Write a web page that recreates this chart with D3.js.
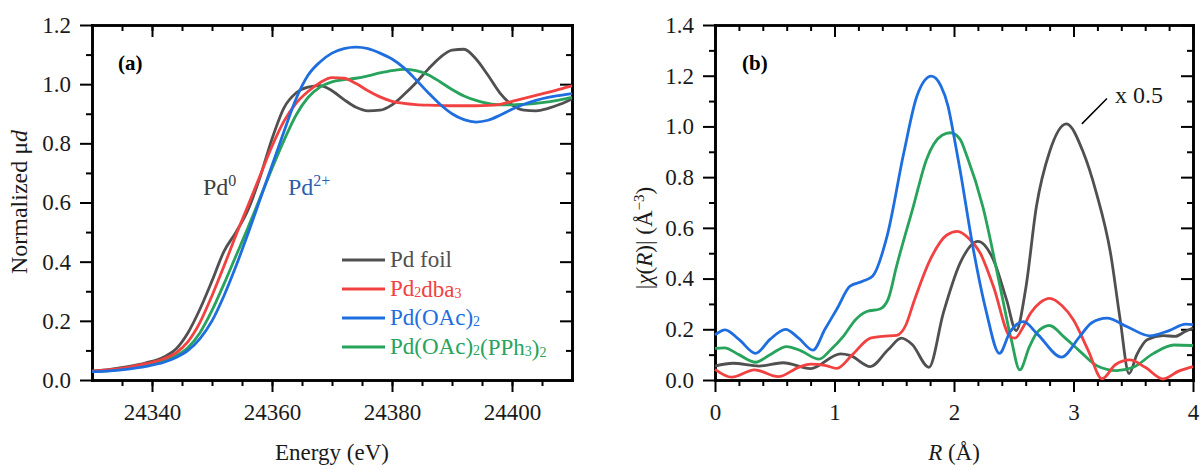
<!DOCTYPE html>
<html>
<head>
<meta charset="utf-8">
<script src="https://cdn.jsdelivr.net/npm/d3@7"></script>
<style>
  body { margin: 0; background: #fff; }
  text { font-family: "Liberation Serif", "Times New Roman", serif; }
</style>
</head>
<body>
<svg id="chart" width="1201" height="469"></svg>
<script>
// ---- panel (a): XANES, shared energy grid (eV)
var energy = [24330, 24333, 24336, 24339, 24342, 24344, 24346, 24348, 24350, 24352,
  24354, 24356, 24358, 24360, 24362, 24364, 24366, 24368, 24370, 24372,
  24374, 24376, 24378, 24380, 24382, 24384, 24386, 24388, 24390, 24392,
  24394, 24396, 24398, 24400, 24402, 24404, 24406, 24408, 24410];

var foilMu = [0.030, 0.036, 0.045, 0.058, 0.078, 0.105, 0.160, 0.240, 0.335, 0.435,
  0.500, 0.575, 0.685, 0.815, 0.920, 0.970, 0.990, 0.995, 0.978, 0.948,
  0.922, 0.910, 0.912, 0.930, 0.965, 1.005, 1.050, 1.090, 1.115, 1.118,
  1.085, 1.030, 0.970, 0.930, 0.912, 0.910, 0.918, 0.932, 0.950];

var dbaMu = [0.030, 0.035, 0.043, 0.055, 0.072, 0.092, 0.130, 0.195, 0.285, 0.385,
  0.490, 0.590, 0.690, 0.790, 0.875, 0.935, 0.975, 1.005, 1.022, 1.020,
  1.002, 0.978, 0.957, 0.942, 0.935, 0.931, 0.929, 0.928, 0.927, 0.927,
  0.927, 0.928, 0.932, 0.942, 0.952, 0.962, 0.972, 0.983, 0.995];

var oacMu = [0.028, 0.031, 0.037, 0.046, 0.060, 0.076, 0.100, 0.140, 0.200, 0.285,
  0.385, 0.495, 0.610, 0.725, 0.840, 0.950, 1.030, 1.075, 1.105, 1.120,
  1.125, 1.120, 1.105, 1.085, 1.055, 1.015, 0.972, 0.932, 0.900, 0.880,
  0.872, 0.878, 0.895, 0.915, 0.932, 0.945, 0.955, 0.962, 0.968];

var pphMu = [0.028, 0.032, 0.039, 0.050, 0.065, 0.082, 0.110, 0.160, 0.235, 0.325,
  0.420, 0.515, 0.615, 0.715, 0.810, 0.895, 0.955, 0.990, 1.008, 1.015,
  1.020, 1.028, 1.038, 1.046, 1.050, 1.046, 1.032, 1.008, 0.982, 0.960,
  0.945, 0.935, 0.930, 0.930, 0.932, 0.935, 0.940, 0.947, 0.955];

// ---- panel (b): FT-EXAFS, each curve with its own R points (Å)
var foilR   = [0, 0.15, 0.37, 0.57, 0.8, 1.05, 1.13, 1.3, 1.45, 1.56, 1.65, 1.79, 1.91, 2.05, 2.2, 2.33, 2.44, 2.52,
  2.6, 2.69, 2.8, 2.94, 3.08, 3.19, 3.31, 3.39, 3.465, 3.53, 3.62, 3.75, 3.85, 3.93, 4.0];
var foilChi = [0.055, 0.066, 0.055, 0.068, 0.045, 0.103, 0.097, 0.053, 0.12, 0.165, 0.14, 0.05, 0.263, 0.46, 0.547, 0.474, 0.316, 0.195,
  0.36, 0.685, 0.9, 1.01, 0.9, 0.74, 0.5, 0.24, 0.025, 0.1, 0.16, 0.175, 0.172, 0.19, 0.205];

var dbaR   = [0, 0.14, 0.33, 0.53, 0.7, 0.8, 0.92, 1.02, 1.15, 1.3, 1.4, 1.52, 1.6, 1.66, 1.8, 1.94, 2.03, 2.12, 2.22,
  2.33, 2.47, 2.51, 2.58, 2.64, 2.72, 2.8, 2.9, 3.0, 3.12, 3.24, 3.35, 3.47, 3.6, 3.75, 3.88, 4.0];
var dbaChi = [0.042, 0.011, 0.04, 0.013, 0.05, 0.063, 0.058, 0.046, 0.1, 0.165, 0.172, 0.176, 0.22, 0.303, 0.474, 0.572, 0.586, 0.56, 0.5,
  0.369, 0.171, 0.165, 0.21, 0.263, 0.305, 0.322, 0.295, 0.237, 0.12, 0.005, 0.06, 0.079, 0.05, 0.004, 0.035, 0.053];

var oacR   = [0, 0.085, 0.2, 0.34, 0.46, 0.59, 0.7, 0.82, 0.92, 1.02, 1.13, 1.24, 1.32, 1.44, 1.58, 1.69, 1.81, 1.89, 1.95,
  2.0, 2.05, 2.16, 2.27, 2.38, 2.47, 2.58, 2.7, 2.9, 3.05, 3.15, 3.28, 3.45, 3.64, 3.8, 3.94, 4.0];
var oacChi = [0.178, 0.198, 0.16, 0.105, 0.16, 0.2, 0.165, 0.118, 0.2, 0.28, 0.37, 0.39, 0.41, 0.567, 0.896, 1.12, 1.198, 1.16, 1.08,
  0.96, 0.83, 0.52, 0.27, 0.105, 0.19, 0.23, 0.18, 0.09, 0.17, 0.225, 0.244, 0.21, 0.174, 0.195, 0.22, 0.218];

var pphR   = [0, 0.08, 0.2, 0.34, 0.46, 0.6, 0.72, 0.87, 0.97, 1.07, 1.18, 1.27, 1.38, 1.45, 1.52, 1.66, 1.77, 1.9, 1.97,
  2.05, 2.11, 2.24, 2.385, 2.48, 2.55, 2.63, 2.7, 2.8, 2.92, 3.05, 3.2, 3.36, 3.5, 3.67, 3.84, 4.0];
var pphChi = [0.125, 0.127, 0.1, 0.07, 0.1, 0.132, 0.115, 0.082, 0.12, 0.17, 0.24, 0.27, 0.28, 0.32, 0.45, 0.685, 0.87, 0.965, 0.975,
  0.95, 0.88, 0.686, 0.37, 0.158, 0.04, 0.13, 0.19, 0.215, 0.17, 0.115, 0.055, 0.037, 0.05, 0.105, 0.138, 0.136];

var legendLabels = ["Pd foil", "Pd2dba3", "Pd(OAc)2", "Pd(OAc)2(PPh3)2"];
var colors = ["#505050", "#f24141", "#1f6ee0", "#27a35c"];

var svg = d3.select("#chart");

// scales
var xa = d3.scaleLinear().domain([24330, 24410]).range([92, 572]);
var ya = d3.scaleLinear().domain([0, 1.2]).range([380, 25]);
var xb = d3.scaleLinear().domain([0, 4]).range([715, 1193]);
var yb = d3.scaleLinear().domain([0, 1.4]).range([380, 25]);

// axes box with ticks: outward on left/bottom, inward on top/right
function frame(x, y, xMajor, xMinor, yMajor, yMinor, xFmt, yFmt) {
  var g = svg.append("g");
  var xr = x.range(), yr = y.range();

  function put(axis, tx, ty) {
    var a = g.append("g")
      .attr("transform", "translate(" + tx + "," + ty + ")")
      .call(axis.tickSizeOuter(0));
    a.attr("font-family", null).attr("font-size", null);
    a.select(".domain").attr("stroke", "#000").attr("stroke-width", 2.6).attr("stroke-linecap", "square");
    a.selectAll(".tick line").attr("stroke", "#000").attr("stroke-width", 2);
    a.selectAll(".tick text").style("font-size", "23px").attr("fill", "#1a1a1a");
    return a;
  }

  put(d3.axisBottom(x).tickValues(xMinor).tickSize(6).tickFormat(""), 0, yr[0]);
  put(d3.axisBottom(x).tickValues(xMajor).tickSize(12).tickPadding(12).tickFormat(xFmt), 0, yr[0]);
  put(d3.axisTop(x).tickValues(xMinor).tickSize(-6).tickFormat(""), 0, yr[1]);
  put(d3.axisTop(x).tickValues(xMajor).tickSize(-12).tickFormat(""), 0, yr[1]);

  put(d3.axisLeft(y).tickValues(yMinor).tickSize(6).tickFormat(""), xr[0], 0);
  put(d3.axisLeft(y).tickValues(yMajor).tickSize(12).tickPadding(9).tickFormat(yFmt), xr[0], 0);
  put(d3.axisRight(y).tickValues(yMinor).tickSize(-6).tickFormat(""), xr[1], 0);
  put(d3.axisRight(y).tickValues(yMajor).tickSize(-12).tickFormat(""), xr[1], 0);
}

frame(xa, ya,
  [24340, 24360, 24380, 24400],
  d3.range(24335, 24410, 5),
  d3.range(0, 1.21, 0.2),
  d3.range(0.1, 1.2, 0.2),
  d3.format("d"), d3.format(".1f"));

frame(xb, yb,
  [0, 1, 2, 3, 4],
  [0.2, 0.4, 0.6, 0.8, 1.2, 1.4, 1.6, 1.8, 2.2, 2.4, 2.6, 2.8, 3.2, 3.4, 3.6, 3.8],
  d3.range(0, 1.41, 0.2),
  d3.range(0.1, 1.4, 0.2),
  d3.format("d"), d3.format(".1f"));

// curves, panel (a)
var muSeries = [foilMu, dbaMu, oacMu, pphMu];
var lineA = d3.line()
  .x(function(d) { return xa(d[0]); })
  .y(function(d) { return ya(d[1]); })
  .curve(d3.curveMonotoneX);

// draw order: foil, green, red, blue like the picture
[0, 3, 1, 2].forEach(function(i) {
  svg.append("path")
    .datum(energy.map(function(e, j) { return [e, muSeries[i][j]]; }))
    .attr("d", lineA)
    .attr("fill", "none")
    .attr("stroke", colors[i])
    .attr("stroke-width", 2.8);
});

// curves, panel (b)
var rSeries = [foilR, dbaR, oacR, pphR];
var chiSeries = [foilChi, dbaChi, oacChi, pphChi];
var lineB = d3.line()
  .x(function(d) { return xb(d[0]); })
  .y(function(d) { return yb(d[1]); })
  .curve(d3.curveMonotoneX);

[0, 3, 1, 2].forEach(function(i) {
  svg.append("path")
    .datum(rSeries[i].map(function(r, j) { return [r, chiSeries[i][j]]; }))
    .attr("d", lineB)
    .attr("fill", "none")
    .attr("stroke", colors[i])
    .attr("stroke-width", 2.8);
});

// legend in panel (a)
var leg = svg.append("g");
legendLabels.forEach(function(lab, i) {
  var cy = 260 + i * 29;
  leg.append("line")
    .attr("x1", 342).attr("x2", 385)
    .attr("y1", cy).attr("y2", cy)
    .attr("stroke", colors[i]).attr("stroke-width", 3);
  var t = leg.append("text")
    .attr("x", 390).attr("y", cy + 7)
    .attr("fill", colors[i])
    .style("font-size", "23px");
  // digits in these formulas are subscripts
  lab.split(/(\d)/).forEach(function(part) {
    if (part === "") return;
    if (/\d/.test(part)) {
      t.append("tspan").attr("dy", 1).style("font-size", "14px").text(part);
      t.append("tspan").attr("dy", -1).text("");
    } else {
      t.append("tspan").text(part);
    }
  });
});

// panel letters
svg.append("text").attr("x", 118).attr("y", 70)
  .style("font-size", "21px").style("font-weight", "bold").text("(a)");
svg.append("text").attr("x", 742).attr("y", 70)
  .style("font-size", "21px").style("font-weight", "bold").text("(b)");

// oxidation state labels
var p0 = svg.append("text").attr("x", 203).attr("y", 195)
  .attr("fill", "#404040").style("font-size", "24px");
p0.append("tspan").text("Pd");
p0.append("tspan").attr("dy", -9).style("font-size", "16px").text("0");

var p2 = svg.append("text").attr("x", 288).attr("y", 195)
  .attr("fill", "#2b5fae").style("font-size", "24px");
p2.append("tspan").text("Pd");
p2.append("tspan").attr("dy", -9).style("font-size", "16px").text("2+");

// x 0.5 annotation
svg.append("line")
  .attr("x1", xb(3.07)).attr("y1", yb(1.01))
  .attr("x2", xb(3.28)).attr("y2", yb(1.11))
  .attr("stroke", "#000").attr("stroke-width", 1.5);
svg.append("text").attr("x", 1115).attr("y", 103)
  .attr("fill", "#1a1a1a").style("font-size", "24px").text("x 0.5");

// axis titles
svg.append("text").attr("x", 332).attr("y", 460)
  .attr("text-anchor", "middle").attr("fill", "#1a1a1a")
  .style("font-size", "23px").text("Energy (eV)");

var xt = svg.append("text").attr("x", 954).attr("y", 460)
  .attr("text-anchor", "middle").attr("fill", "#1a1a1a").style("font-size", "23px");
xt.append("tspan").style("font-style", "italic").text("R");
xt.append("tspan").text(" (Å)");

var yta = svg.append("text")
  .attr("transform", "translate(27,202) rotate(-90)")
  .attr("text-anchor", "middle").attr("fill", "#1a1a1a").style("font-size", "24px");
yta.append("tspan").text("Normalized μ");
yta.append("tspan").style("font-style", "italic").text("d");

var ytb = svg.append("text")
  .attr("transform", "translate(652,238) rotate(-90)")
  .attr("text-anchor", "middle").attr("fill", "#1a1a1a").style("font-size", "23px");
ytb.append("tspan").text("|");
ytb.append("tspan").style("font-style", "italic").text("χ");
ytb.append("tspan").text("(");
ytb.append("tspan").style("font-style", "italic").text("R");
ytb.append("tspan").text(")| (Å");
ytb.append("tspan").attr("dy", -8).style("font-size", "15px").text("−3");
ytb.append("tspan").attr("dy", 8).text(")");
</script>
</body>
</html>
